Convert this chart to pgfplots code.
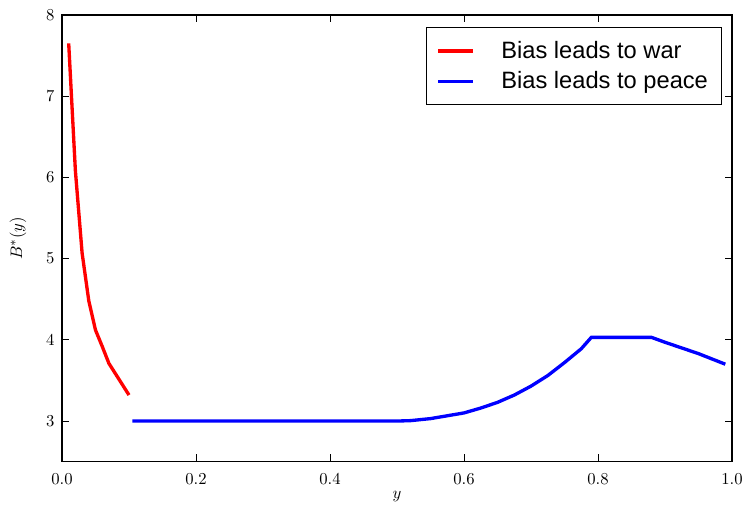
\documentclass[border=0pt]{standalone}
\usepackage{pgfplots}
\pgfplotsset{compat=1.18}
\usepackage{fontspec}
\newfontfamily\legfont{Liberation Sans}

\begin{document}
\begin{tikzpicture}
  \begin{axis}[
      scale only axis,
      width=402pt, height=268pt,
      xmin=0, xmax=1, ymin=2.5, ymax=8,
      xtick={0,0.2,0.4,0.6,0.8,1},
      ytick={3,4,5,6,7,8},
      xticklabel style={yshift=-4pt, /pgf/number format/.cd, fixed, fixed zerofill, precision=1},
      yticklabel style={xshift=-1pt},
      tick align=inside,
      major tick length=4.5pt,
      tick style={black, line width=0.5pt},
      axis line style={line width=0.8pt},
      xlabel={$y$},
      ylabel={$B^*(y)$},
      ylabel shift=5pt,
      xlabel shift=-3pt,
      legend style={at={(rel axis cs:0.985,0.973)}, anchor=north east,
        font=\legfont\fontsize{14.2}{16.5}\selectfont,
        draw=black, line width=0.8pt, row sep=2.5pt, column sep=14pt,
        inner xsep=6pt, inner ysep=6pt},
      legend cell align=left,
      legend image code/.code={\draw[#1, line width=2pt] (0pt,0pt) -- (21pt,0pt);},
      clip=false
    ]
    \coordinate (ll) at (rel axis cs:0,0);
    \coordinate (ur) at (rel axis cs:1,1);
    \addplot[red, line width=2pt] coordinates {
      (0.01,7.65) (0.02,6.08) (0.03,5.07) (0.04,4.48) (0.05,4.12)
      (0.06,3.92) (0.07,3.71) (0.08,3.58) (0.09,3.45) (0.10,3.32)
    };
    \addlegendentry{Bias leads to war}
    \addplot[blue, line width=2pt] coordinates {
      (0.105,3.0) (0.5,3.0) (0.52,3.005) (0.55,3.03) (0.6,3.10)
      (0.625,3.16) (0.65,3.23) (0.675,3.32) (0.7,3.43) (0.725,3.56)
      (0.75,3.72) (0.775,3.89) (0.79,4.03) (0.88,4.03) (0.9,3.97)
      (0.95,3.83) (0.99,3.70)
    };
    \addlegendentry{Bias leads to peace}
  \end{axis}
  \pgfresetboundingbox
  \path ([shift={(-37.2pt,-28.8pt)}]ll) rectangle ([shift={(7.8pt,9pt)}]ur);
\end{tikzpicture}
\end{document}
